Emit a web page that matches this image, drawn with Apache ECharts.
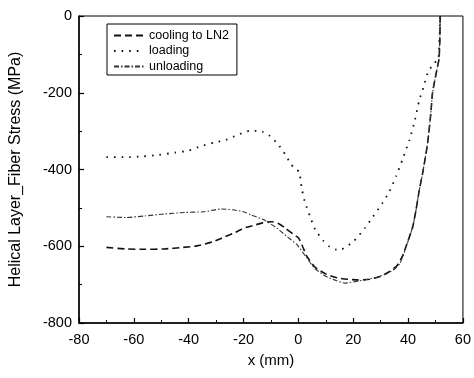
<!DOCTYPE html>
<html>
<head>
<meta charset="utf-8">
<script src="https://cdn.jsdelivr.net/npm/echarts@6/dist/echarts.min.js"></script>
<style>
  html, body { margin: 0; padding: 0; background: #fff; }
  #chart { width: 474px; height: 378px; }
</style>
</head>
<body>
<div id="chart"></div>
<script>
// values (x in mm, stress in MPa)
var coolingX = [-70, -63, -56, -49, -42, -37, -31, -27, -23, -20, -16, -12.6, -9.6, -7, -4.7, -2, 0, 1.5, 3, 6, 10, 14, 18, 22, 26, 30, 33, 36, 38, 40, 41.7, 42.9, 44.1, 45.3, 47.1, 48.3, 48.9, 49.8, 50.5, 51.3, 51.6, 51.7];
var coolingY = [-603, -607, -608, -607, -603, -599, -588, -576, -564, -553, -545, -538, -536, -542, -553, -568, -578, -600, -625, -654, -672, -682, -686, -688, -686, -678, -667, -650, -625, -585, -549, -505, -453, -410, -332, -253, -201, -165, -140, -110, -50, 0];

var loadingX = [-70, -63, -57, -51, -45, -40, -35.5, -30.7, -26.5, -22.2, -17.4, -13.2, -10.8, -7.2, -4.7, -2.9, -1.1, 0.3, 0.8, 1.3, 2.5, 4.3, 6.1, 9.1, 11.5, 14, 15.8, 20, 24.2, 27.2, 30.6, 33.2, 35.6, 38.1, 40.5, 42.5, 44.1, 45.7, 47.1, 49.5, 51, 51.7];
var loadingY = [-368, -368, -366, -362, -356, -351, -339, -330, -323, -310, -299, -301, -310, -336, -362, -384, -400, -405, -427, -452, -488, -523, -556, -586, -602, -609, -608, -588, -553, -523, -488, -457, -418, -371, -323, -271, -219, -184, -149, -122, -115, 0];

var unloadingX = [-70, -63, -56, -49, -41.5, -34.3, -28.3, -24, -20, -17.4, -12.6, -7.8, -4.1, -0.5, 3, 6, 10, 14, 17, 20, 24, 28, 32, 35, 37, 39.3, 41.7, 42.9, 44.1, 45.3, 47.1, 48.3, 48.9, 49.8, 50.5, 51.3, 51.6, 51.7];
var unloadingY = [-523, -525, -521, -516, -512, -510, -503, -505, -510, -518, -531, -553, -575, -596, -630, -658, -678, -690, -696, -693, -688, -682, -672, -660, -645, -601, -549, -505, -453, -410, -332, -253, -201, -165, -140, -110, -50, 0];

var xTicks = [-80, -60, -40, -20, 0, 20, 40, 60];
var yTicks = [-800, -600, -400, -200, 0];

function pairs(xs, ys) {
  return xs.map(function (x, i) { return [x, ys[i]]; });
}

var font = '"Liberation Sans", Arial, sans-serif';
var chart = echarts.init(document.getElementById('chart'));

chart.setOption({
  animation: false,
  backgroundColor: '#fff',
  grid: {
    left: 77,
    right: 10,
    top: 16,
    bottom: 55,
    show: true,
    borderColor: '#000',
    borderWidth: 1
  },
  legend: {
    orient: 'vertical',
    left: 107,
    top: 24,
    padding: [5, 8, 2, 6],
    itemWidth: 30,
    itemHeight: 14,
    itemGap: 2.5,
    borderColor: '#000',
    borderWidth: 1,
    itemStyle: { opacity: 0 },
    textStyle: { fontFamily: font, fontSize: 12.5, color: '#000' },
    data: ['cooling to LN2', 'loading', 'unloading']
  },
  xAxis: {
    type: 'value',
    min: xTicks[0],
    max: xTicks[xTicks.length - 1],
    interval: 20,
    name: 'x (mm)',
    nameLocation: 'middle',
    nameGap: 30,
    nameTextStyle: { fontFamily: font, fontSize: 15, color: '#000' },
    axisLine: { show: true, onZero: false, lineStyle: { color: '#000', width: 1.5 } },
    axisTick: { inside: true, length: 5, lineStyle: { color: '#000', width: 1.2 } },
    minorTick: { show: true, splitNumber: 2, length: 3, lineStyle: { color: '#000', width: 1 } },
    splitLine: { show: false },
    axisLabel: { fontFamily: font, fontSize: 14.5, color: '#000', margin: 9 }
  },
  yAxis: {
    type: 'value',
    min: yTicks[0],
    max: yTicks[yTicks.length - 1],
    interval: 200,
    name: 'Helical Layer_Fiber Stress (MPa)',
    nameLocation: 'middle',
    nameGap: 55,
    nameTextStyle: { fontFamily: font, fontSize: 16, color: '#000' },
    axisLine: { show: true, onZero: false, lineStyle: { color: '#000', width: 1.5 } },
    axisTick: { inside: true, length: 5, lineStyle: { color: '#000', width: 1.2 } },
    minorTick: { show: true, splitNumber: 2, length: 3, lineStyle: { color: '#000', width: 1 } },
    splitLine: { show: false },
    axisLabel: { fontFamily: font, fontSize: 14.5, color: '#000', margin: 7 }
  },
  series: [
    {
      name: 'cooling to LN2',
      type: 'line',
      symbol: 'none',
      smooth: 0.2,
      data: pairs(coolingX, coolingY),
      lineStyle: { color: '#111', width: 1.6, type: [7, 4] },
      itemStyle: { color: '#111' }
    },
    {
      name: 'loading',
      type: 'line',
      symbol: 'none',
      smooth: 0.2,
      data: pairs(loadingX, loadingY),
      lineStyle: { color: '#111', width: 1.8, type: [1.6, 6] },
      itemStyle: { color: '#111' }
    },
    {
      name: 'unloading',
      type: 'line',
      symbol: 'none',
      smooth: 0.2,
      data: pairs(unloadingX, unloadingY),
      lineStyle: { color: '#333', width: 1.1, type: [5, 2, 1.5, 2] },
      itemStyle: { color: '#333' }
    }
  ]
});
</script>
</body>
</html>
